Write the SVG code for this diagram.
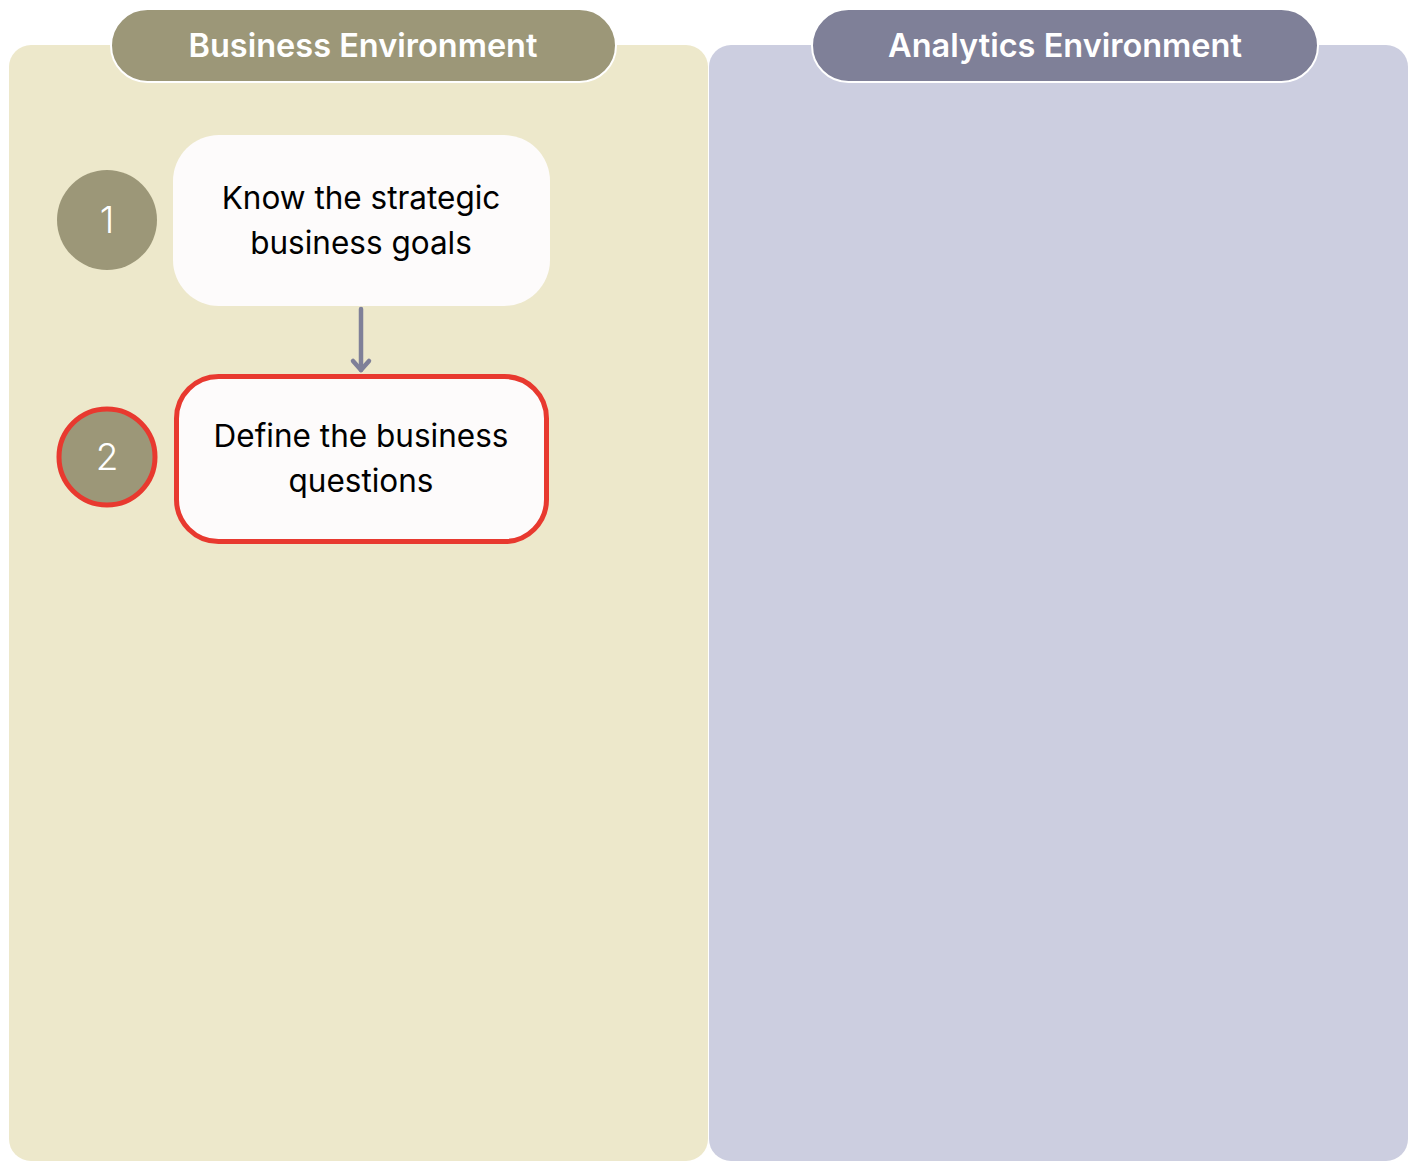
<svg xmlns="http://www.w3.org/2000/svg" width="1416" height="1170" viewBox="0 0 1416 1170">
<defs>
<style>
.hdr{font-family:Inter,"Noto Sans","Liberation Sans",sans-serif;font-size:32.5px;font-weight:600;fill:#ffffff;text-anchor:middle}
.lbl{font-family:Inter,"Noto Sans","Liberation Sans",sans-serif;font-size:31.5px;fill:#000000;text-anchor:middle}
.num{font-family:Inter,"Noto Sans","Liberation Sans",sans-serif;font-size:37px;font-weight:300;fill:#ffffff;text-anchor:middle}
.box{fill:#fdfbfb}
.circ{fill:#9c9778}
.sel{stroke:#e8392f;stroke-width:5}
.edge{fill:none;stroke:#7f8098;stroke-width:4.5;stroke-linecap:round;stroke-linejoin:round}
</style>
</defs>
<rect width="1416" height="1170" fill="#ffffff"/>
<g id="lane-business">
<rect x="9" y="45" width="699" height="1116" rx="22" fill="#ede8cb"/>
<rect x="111" y="9" width="505" height="73" rx="36.5" fill="#9c9778" stroke="#ffffff" stroke-width="2"/>
<text class="hdr" x="363" y="57">Business Environment</text>
</g>
<g id="lane-analytics">
<rect x="709" y="45" width="699" height="1116" rx="22" fill="#cccee0"/>
<rect x="812" y="9" width="506" height="73" rx="36.5" fill="#7f8098" stroke="#ffffff" stroke-width="2"/>
<text class="hdr" x="1065" y="57">Analytics Environment</text>
</g>
<g id="node-1">
<circle class="circ" cx="107" cy="220" r="50"/>
<text class="num" x="107" y="233">1</text>
<rect class="box" x="173" y="135" width="377" height="171" rx="46"/>
<text class="lbl" x="361" y="209">Know the strategic</text>
<text class="lbl" x="361" y="254">business goals</text>
</g>
<g id="node-2">
<circle class="circ sel" cx="107" cy="457" r="48"/>
<text class="num" x="107" y="470">2</text>
<rect class="box sel" x="176.5" y="376.5" width="370" height="165" rx="42"/>
<text class="lbl" x="361" y="447">Define the business</text>
<text class="lbl" x="361" y="492">questions</text>
</g>
<g id="connectors">
<path class="edge" d="M361,309 L361,370"/>
<path class="edge" d="M353,361 L361,370 L369,361"/>
</g>
</svg>
